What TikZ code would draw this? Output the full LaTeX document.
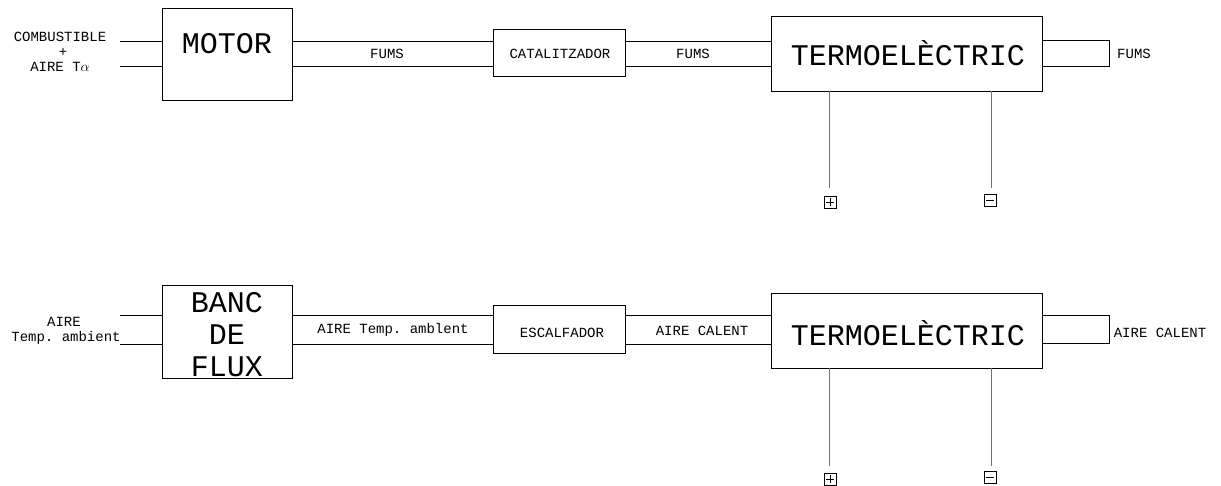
\documentclass[tikz,border=0pt]{standalone}
\usepackage{fontspec}
\setmonofont{Liberation Mono}
\usetikzlibrary{calc}
\begin{document}
\begin{tikzpicture}[x=1pt,y=-1pt,
  blk/.style={draw,line width=0.8pt,inner sep=0pt,anchor=center},
  big/.style={font=\ttfamily\fontsize{30}{30}\selectfont,inner sep=0pt},
  small/.style={font=\ttfamily\fontsize{14}{14}\selectfont,inner sep=0pt},
  wire/.style={line width=0.8pt},
  lead/.style={line width=1pt,draw=black!55},
  term/.style={draw,line width=0.8pt,minimum size=12pt,inner sep=0pt},
  plus/.style={term,path picture={\draw[line width=0.7pt] ($(path picture bounding box.center)+(-4,0)$) -- ++(8,0) ($(path picture bounding box.center)+(0,-4)$) -- ++(0,8);}},
  minus/.style={term,path picture={\draw[line width=0.7pt] ($(path picture bounding box.center)+(-4,0)$) -- ++(8,0);}}
]
\useasboundingbox (0,0) rectangle (1221,486);

% ---------- top row ----------
\node[blk,minimum width=130pt,minimum height=92pt] (motor) at (227,54) {};
\node[big] (motorT) at (227,44) {MOTOR};
\node[blk,minimum width=132pt,minimum height=47pt] (cat) at (559,52.5) {};
\node[small] (catT) at (560,54) {CATALITZADOR};
\node[blk,minimum width=271pt,minimum height=75pt] (te1) at (906.5,53.5) {};
\node[big] (te1T) at (908,53) {TERMOELÈCTRIC};

\coordinate (in1a) at (120,41);
\coordinate (in1b) at (120,66);
\draw[wire] (in1a) -- (motor.west |- in1a);
\draw[wire] (in1b) -- (motor.west |- in1b);
\node[small] (comb) at (60,37) {COMBUSTIBLE};
\node[small] (pl) at (63,52) {+};
\node[small] (airta) at (60,67) {AIRE T$\alpha$};

\draw[wire] (motor.east |- in1a) -- (cat.west |- in1a);
\draw[wire] (motor.east |- in1b) -- (cat.west |- in1b);
\node[small] (f1) at (387,54) {FUMS};
\draw[wire] (cat.east |- in1a) -- (te1.west |- in1a);
\draw[wire] (cat.east |- in1b) -- (te1.west |- in1b);
\node[small] (f2) at (693,54) {FUMS};
\coordinate (u1a) at (1109,40);
\coordinate (u1b) at (1109,66);
\draw[wire] (te1.east |- u1a) -- (u1a) -- (u1b) -- (te1.east |- u1b);
\node[small] (f3) at (1134,54) {FUMS};

\node[plus] (p1) at (830,202) {};
\node[minus] (m1) at (990,200) {};
\coordinate (p1e) at (829,188);
\coordinate (m1e) at (991,188);
\draw[lead] (te1.south -| p1e) -- (p1e);
\draw[lead] (te1.south -| m1e) -- (m1e);

% ---------- bottom row ----------
\node[blk,minimum width=130pt,minimum height=93pt] (banc) at (227,331.5) {};
\node[big] (bancT1) at (227,303) {BANC};
\node[big] (bancT2) at (227,335) {DE};
\node[big] (bancT3) at (227,367) {FLUX};
\node[blk,minimum width=132pt,minimum height=48pt] (esc) at (559,329) {};
\node[small] (escT) at (562,333) {ESCALFADOR};
\node[blk,minimum width=271pt,minimum height=75pt] (te2) at (906.5,330.5) {};
\node[big] (te2T) at (908,333) {TERMOELÈCTRIC};

\coordinate (in2a) at (120,315);
\coordinate (in2b) at (120,344);
\draw[wire] (in2a) -- (banc.west |- in2a);
\draw[wire] (in2b) -- (banc.west |- in2b);
\node[small] (aire) at (64,322) {AIRE};
\node[small] (tamb) at (66,338) {Temp. ambient};

\draw[wire] (banc.east |- in2a) -- (esc.west |- in2a);
\draw[wire] (banc.east |- in2b) -- (esc.west |- in2b);
\node[small] (l1) at (393,330) {AIRE Temp. amblent};
\draw[wire] (esc.east |- in2a) -- (te2.west |- in2a);
\draw[wire] (esc.east |- in2b) -- (te2.west |- in2b);
\node[small] (l2) at (702,331) {AIRE CALENT};
\coordinate (u2a) at (1109,315);
\coordinate (u2b) at (1109,343);
\draw[wire] (te2.east |- u2a) -- (u2a) -- (u2b) -- (te2.east |- u2b);
\node[small] (l3) at (1160,333) {AIRE CALENT};

\node[plus] (p2) at (830,479) {};
\node[minus] (m2) at (990,477) {};
\coordinate (p2e) at (829,466);
\coordinate (m2e) at (991,466);
\draw[lead] (te2.south -| p2e) -- (p2e);
\draw[lead] (te2.south -| m2e) -- (m2e);
\end{tikzpicture}
\end{document}
